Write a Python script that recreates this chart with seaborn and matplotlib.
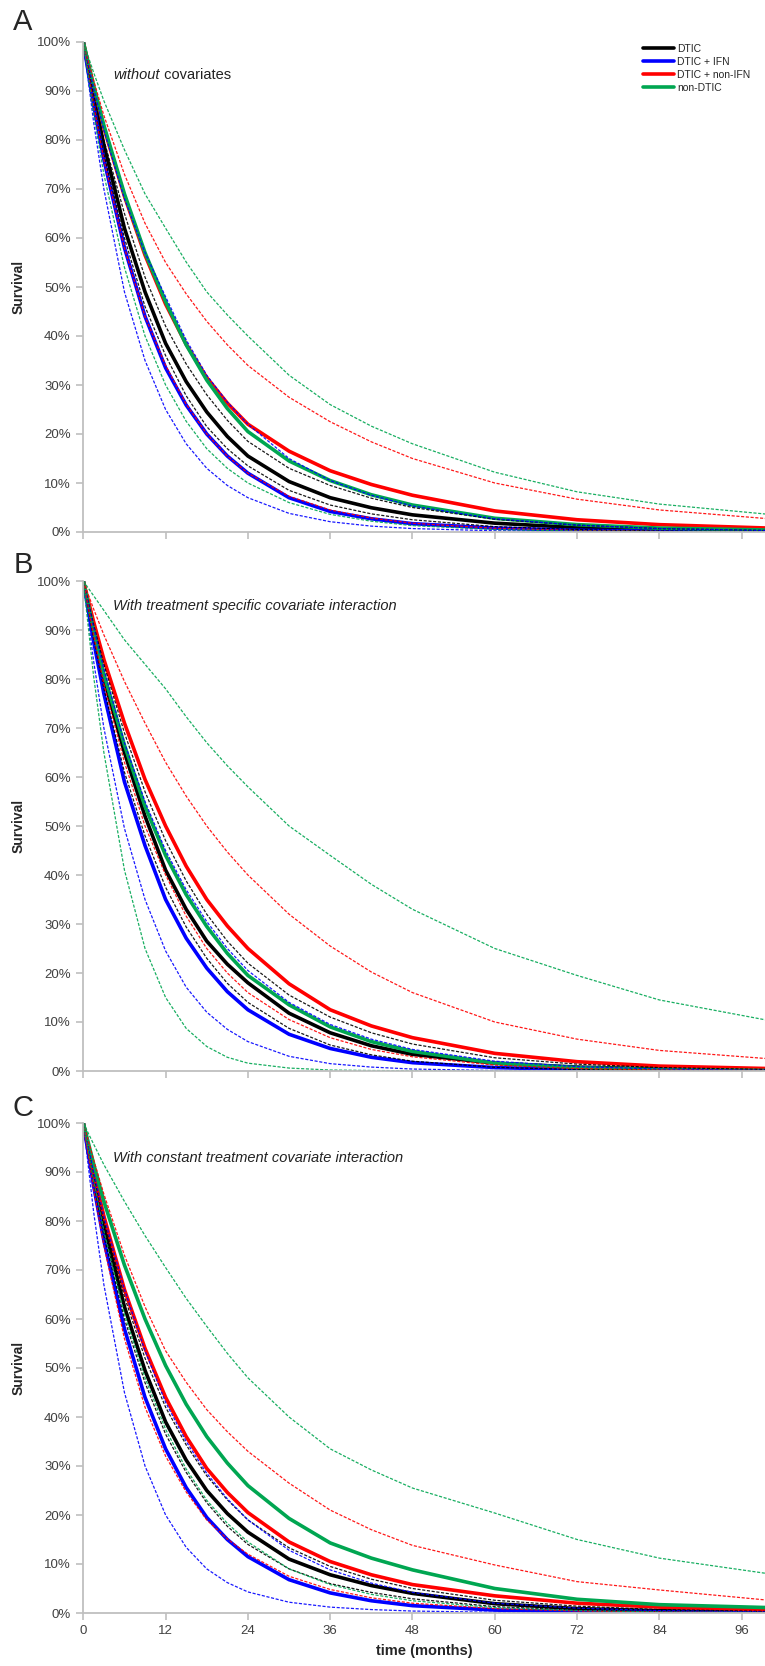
import pandas as pd
import seaborn as sns
import matplotlib.pyplot as plt

sns.set_style('white')
plt.rcParams['font.family'] = ['Liberation Sans', 'DejaVu Sans']

# time grid (months) shared by every curve
months = [0, 1.5, 3, 6, 9, 12, 15, 18, 21, 24, 30, 36, 42, 48, 60, 72, 84, 100]
treatments = ['DTIC', 'DTIC + IFN', 'DTIC + non-IFN', 'non-DTIC']
x_ticks = [0, 12, 24, 36, 48, 60, 72, 84, 96]
y_ticks = [0, 10, 20, 30, 40, 50, 60, 70, 80, 90, 100]
y_tick_labels = ['0%', '10%', '20%', '30%', '40%', '50%', '60%', '70%', '80%', '90%', '100%']
panel_letters = ['A', 'B', 'C']

# Panel A - without covariates (survival %, estimate / lower / upper)
a_dtic = [100, 88.9, 79, 62, 49, 38.5, 30.7, 24.5, 19.5, 15.5, 10.3, 7.0, 4.95, 3.5, 1.8, 0.9, 0.5, 0.2]
a_dtic_lo = [100, 87.7, 77, 60, 46, 36, 27.8, 21.5, 17.0, 13.5, 8.5, 5.5, 3.7, 2.5, 1.1, 0.5, 0.2, 0.1]
a_dtic_hi = [100, 89.4, 80, 65, 52, 42, 34.3, 28, 22.8, 18.5, 13, 9.5, 6.9, 5, 2.6, 1.4, 0.7, 0.3]
a_ifn = [100, 87.2, 76, 58, 44, 33.5, 25.9, 20, 15.5, 12, 7, 4.2, 2.7, 1.7, 0.8, 0.35, 0.15, 0.05]
a_ifn_lo = [100, 83.7, 70, 49, 35, 25, 18.0, 13, 9.5, 7, 3.8, 2.1, 1.2, 0.7, 0.25, 0.1, 0.05, 0]
a_ifn_hi = [100, 90.6, 82, 68, 57, 48, 39.2, 32, 26.5, 22, 15, 10.5, 7.5, 5.3, 2.7, 1.4, 0.7, 0.3]
a_nonifn = [100, 90.8, 82.5, 68.5, 56.5, 46.5, 38.3, 31.5, 26.3, 22, 16.5, 12.5, 9.7, 7.5, 4.3, 2.5, 1.5, 0.8]
a_nonifn_lo = [100, 87.2, 76, 58, 44, 34, 26.1, 20, 15.5, 12, 7.3, 4.5, 2.85, 1.8, 0.75, 0.3, 0.1, 0]
a_nonifn_hi = [100, 92.2, 85, 73, 63, 55, 48.6, 43, 38.2, 34, 27.5, 22.5, 18.4, 15, 10, 6.7, 4.5, 2.7]
a_non = [100, 91.1, 83, 69, 57, 47, 38.2, 31, 25.2, 20.5, 14.5, 10.5, 7.6, 5.5, 2.8, 1.5, 0.8, 0.4]
a_non_lo = [100, 85.4, 73, 54, 40, 30, 22.6, 17, 13.0, 10, 6, 3.6, 2.2, 1.3, 0.5, 0.2, 0.1, 0]
a_non_hi = [100, 93.8, 88, 78, 69, 62, 55.1, 49, 44.3, 40, 32, 26, 21.6, 18, 12.2, 8.2, 5.7, 3.6]

# Panel B - treatment specific covariate interaction
b_dtic = [100, 89.4, 80, 65, 52, 41, 33.0, 26.5, 21.8, 18, 11.8, 7.8, 5.15, 3.4, 1.6, 0.8, 0.4, 0.15]
b_dtic_lo = [100, 88.3, 78, 61, 48, 37.5, 29.4, 23, 17.9, 14, 8.7, 5.3, 3.3, 2.0, 0.75, 0.3, 0.1, 0.05]
b_dtic_hi = [100, 91.1, 83, 69, 57, 47, 38.8, 32, 26.5, 22, 15.5, 11, 7.8, 5.5, 2.7, 1.4, 0.7, 0.3]
b_ifn = [100, 87.7, 77, 59, 46, 35, 27.1, 21, 16.2, 12.5, 7.5, 4.6, 2.8, 1.7, 0.7, 0.3, 0.1, 0.05]
b_ifn_lo = [100, 83.7, 70, 49.5, 35, 24.5, 17.1, 12, 8.5, 6, 3, 1.5, 0.8, 0.4, 0.1, 0, 0, 0]
b_ifn_hi = [100, 90.6, 82, 67, 55, 45, 37.0, 30.5, 25.0, 20.5, 14, 9.5, 6.5, 4.4, 2, 0.9, 0.4, 0.15]
b_nonifn = [100, 91.7, 84, 71, 59.5, 50, 41.8, 35, 29.6, 25, 17.8, 12.5, 9.2, 6.8, 3.6, 1.9, 1.0, 0.5]
b_nonifn_lo = [100, 88.9, 79, 63, 50, 40, 31.6, 25, 20, 16, 10.5, 6.8, 4.4, 2.9, 1.2, 0.5, 0.2, 0.1]
b_nonifn_hi = [100, 94.3, 89, 79.5, 71, 63, 56.1, 50, 44.7, 40, 32, 25.5, 20.2, 16, 10, 6.5, 4.2, 2.5]
b_non = [100, 90, 81, 66.5, 54, 44, 36.0, 29.5, 24.0, 19.5, 13.5, 9, 6, 4, 1.6, 0.7, 0.3, 0.1]
b_non_lo = [100, 80.6, 65, 41, 25, 15, 8.7, 5, 2.8, 1.6, 0.6, 0.2, 0.1, 0.05, 0, 0, 0, 0]
b_non_hi = [100, 97, 94, 88, 83, 78, 72.3, 67, 62.3, 58, 50, 44, 38.1, 33, 25, 19.5, 14.5, 10.3]

# Panel C - constant treatment covariate interaction
c_dtic = [100, 88.9, 79, 62.5, 49.5, 39, 31.2, 25, 20.3, 16.5, 11, 7.8, 5.6, 4, 1.9, 0.9, 0.45, 0.2]
c_dtic_lo = [100, 87.7, 77, 60, 47, 36.5, 28.7, 22.5, 17.7, 14, 9, 6, 4.2, 2.9, 1.3, 0.6, 0.25, 0.1]
c_dtic_hi = [100, 89.4, 80, 64.5, 52, 42, 34.3, 28, 23.1, 19, 13.3, 9.5, 6.9, 5, 2.6, 1.4, 0.7, 0.3]
c_ifn = [100, 87.2, 76, 58, 44, 33.5, 25.6, 19.5, 15.0, 11.5, 6.8, 4.1, 2.5, 1.5, 0.6, 0.25, 0.1, 0.03]
c_ifn_lo = [100, 81.9, 67, 45, 30, 20, 13.4, 9, 6.2, 4.3, 2.2, 1.2, 0.7, 0.4, 0.15, 0.05, 0, 0]
c_ifn_hi = [100, 90, 81, 66, 53.5, 43, 35.0, 28.5, 23.3, 19, 12.8, 8.8, 6.1, 4.2, 2, 1, 0.5, 0.2]
c_nonifn = [100, 90, 81, 66, 54, 44, 36.0, 29.5, 24.6, 20.5, 14.5, 10.5, 7.8, 5.8, 3.5, 2, 1.2, 0.6]
c_nonifn_lo = [100, 86.6, 75, 56, 42, 32, 24.7, 19, 15.1, 12, 7.5, 4.8, 3.1, 2, 0.9, 0.4, 0.2, 0.05]
c_nonifn_hi = [100, 92.5, 85.5, 73, 62.5, 53.5, 47.1, 41.5, 37.0, 33, 26.5, 21, 17, 13.8, 9.8, 6.4, 4.7, 2.6]
c_non = [100, 91.7, 84, 71, 60, 50.5, 42.6, 36, 30.6, 26, 19.3, 14.3, 11.2, 8.8, 5.0, 2.8, 1.7, 1.1]
c_non_lo = [100, 88.3, 78, 61, 48, 37.5, 29.4, 23, 18.3, 14.5, 9, 5.8, 3.8, 2.5, 1.1, 0.5, 0.2, 0.1]
c_non_hi = [100, 95.7, 91.5, 84, 77, 70.5, 64.2, 58.5, 53.0, 48, 40, 33.5, 29.2, 25.5, 20.4, 15, 11.2, 8]

palette = {'DTIC': '#000000', 'DTIC + IFN': '#0000FF',
           'DTIC + non-IFN': '#FF0000', 'non-DTIC': '#00A651'}

panels = [
    [a_dtic, a_dtic_lo, a_dtic_hi, a_ifn, a_ifn_lo, a_ifn_hi,
     a_nonifn, a_nonifn_lo, a_nonifn_hi, a_non, a_non_lo, a_non_hi],
    [b_dtic, b_dtic_lo, b_dtic_hi, b_ifn, b_ifn_lo, b_ifn_hi,
     b_nonifn, b_nonifn_lo, b_nonifn_hi, b_non, b_non_lo, b_non_hi],
    [c_dtic, c_dtic_lo, c_dtic_hi, c_ifn, c_ifn_lo, c_ifn_hi,
     c_nonifn, c_nonifn_lo, c_nonifn_hi, c_non, c_non_lo, c_non_hi],
]
kinds = ['est', 'lo', 'hi']


def long_frame(curves):
    rows = []
    for i, vals in enumerate(curves):
        trt = treatments[i // 3]
        kind = kinds[i % 3]
        for t, s in zip(months, vals):
            rows.append((trt, kind, t, s))
    return pd.DataFrame(rows, columns=['treatment', 'kind', 'time', 'survival'])


W, H = 765, 1666
fig = plt.figure(figsize=(W / 100, H / 100), dpi=100)
left = 83.3
tops = [42, 581, 1123]
ph = 490
text_y = [0.933, 0.949, 0.929]
letter_y = [22, 565, 1108]
grey = '#BFBFBF'
tick_col = '#404040'

for i, top in enumerate(tops):
    ax = fig.add_axes([left / W, 1 - (top + ph) / H, 1 - left / W, ph / H])
    df = long_frame(panels[i])
    est = df[df['kind'] == 'est']
    ci = df[df['kind'] != 'est']

    sns.lineplot(data=est, x='time', y='survival', hue='treatment',
                 hue_order=treatments, palette=palette, estimator=None,
                 linewidth=2.6, legend=(i == 0), ax=ax)
    sns.lineplot(data=ci, x='time', y='survival', hue='treatment',
                 hue_order=treatments, palette=palette, units='kind',
                 estimator=None, linewidth=0.9, linestyle=(0, (2.5, 1.3)),
                 alpha=0.9, legend=False, ax=ax)

    ax.set_xlim(0, 99.4)
    ax.set_ylim(0, 100)
    ax.set_xticks(x_ticks)
    ax.set_yticks(y_ticks)
    ax.set_yticklabels(y_tick_labels)
    if i == 2:
        ax.set_xticklabels([str(x) for x in x_ticks])
        ax.set_xlabel('time (months)', fontsize=10.5, fontweight='bold', labelpad=5)
    else:
        ax.set_xticklabels([])
        ax.set_xlabel('')
    ax.set_ylabel('Survival', fontsize=10, fontweight='bold')
    ax.yaxis.set_label_coords(-0.085, 0.5)

    for side in ['top', 'right']:
        ax.spines[side].set_visible(False)
    for side in ['left', 'bottom']:
        ax.spines[side].set_color(grey)
        ax.spines[side].set_linewidth(1.3)
    ax.tick_params(axis='both', direction='out', length=5, width=1.2,
                   color=grey, labelcolor=tick_col, labelsize=9.5, pad=4)
    ax.tick_params(axis='both', which='both', bottom=True, left=True)

    if i == 0:
        t1 = ax.text(0.044, text_y[i], 'without', transform=ax.transAxes,
                     fontsize=10.5, style='italic', va='center', color='#222222')
        ax.annotate(' covariates', xy=(1, 0), xycoords=t1, va='bottom',
                    fontsize=10.5, color='#222222')
        sns.move_legend(ax, 'upper left', bbox_to_anchor=(643 / W, 1 - 44 / H),
                        bbox_transform=fig.transFigure, frameon=False, title=None,
                        fontsize=7.5, handlelength=3.0, handletextpad=0.3,
                        labelspacing=0.28, borderpad=0, borderaxespad=0)
        for h in ax.get_legend().legend_handles:
            h.set_linewidth(2.6)
            h.set_linestyle('-')
    elif i == 1:
        ax.text(0.044, text_y[i], 'With treatment specific covariate interaction',
                transform=ax.transAxes, fontsize=10.5, style='italic',
                va='center', color='#222222')
    else:
        ax.text(0.044, text_y[i], 'With constant treatment covariate interaction',
                transform=ax.transAxes, fontsize=10.5, style='italic',
                va='center', color='#222222')

    fig.text(23 / W, 1 - letter_y[i] / H, panel_letters[i], fontsize=21,
             ha='center', va='center')

fig.savefig('out.png', dpi=100)
